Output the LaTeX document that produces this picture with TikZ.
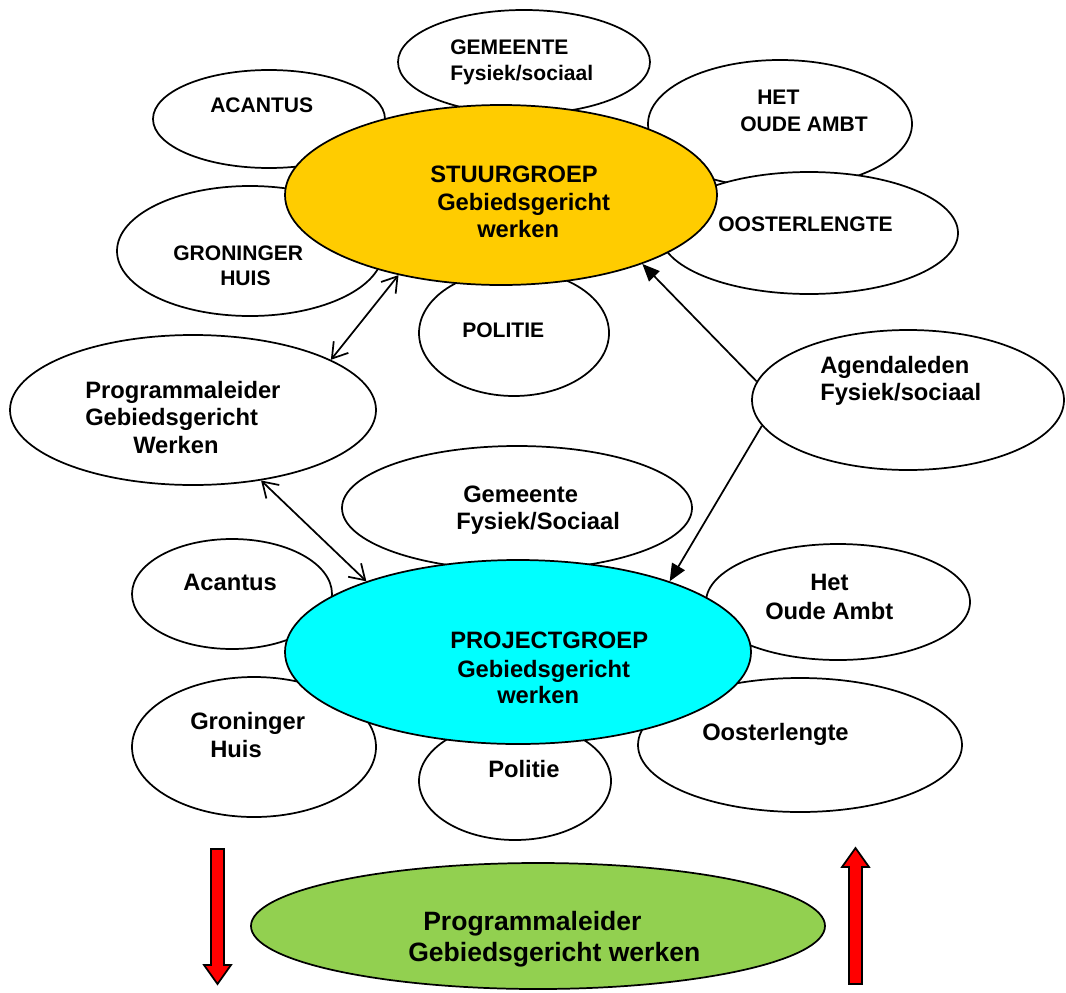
\documentclass[tikz,border=0pt]{standalone}
\usepackage{fontspec}
\setmainfont{Liberation Sans}
\usetikzlibrary{arrows.meta,shapes.geometric}
\definecolor{stuurc}{HTML}{FFCC00}
\definecolor{projc}{HTML}{00FFFF}
\definecolor{progc}{HTML}{92D050}
\begin{document}
\begin{tikzpicture}[x=0.75pt,y=-0.75pt,
  ell/.style 2 args={ellipse, draw=black, line width=1.3pt, fill=white, inner sep=0pt,
    minimum width=#1*1.5pt, minimum height=#2*1.5pt},
  lblS/.style={anchor=base west, inner sep=0pt, font=\bfseries\fontsize{15.8pt}{18pt}\selectfont},
  lblM/.style={anchor=base west, inner sep=0pt, font=\bfseries\fontsize{17.8pt}{20pt}\selectfont},
  lblL/.style={anchor=base west, inner sep=0pt, font=\bfseries\fontsize{19.9pt}{22pt}\selectfont},
  conn/.style={line width=1.3pt},
  dbl/.style={conn, {Straight Barb[length=11pt,width=14pt]}-{Straight Barb[length=11pt,width=14pt]}},
  sarrow/.style={conn, -{Triangle[length=13pt,width=11pt]}},
  redarrow/.style={fill=red, draw=black, line width=1.3pt, line join=miter}]
\useasboundingbox (0,0) rectangle (1066,992);

% top satellites
\node[ell={126}{52}] (gem1) at (524,62) {};
\node[ell={116}{49}] (aca1) at (269,119) {};
\node[ell={132}{64}] (hoa1) at (780,124) {};
\node[ell={149}{61}] (oos1) at (809,233) {};
\node[ell={133}{65}] (gro1) at (250,251) {};
\node[ell={95}{63}] (pol1) at (514,333) {};
% central top
\node[ell={216}{90}, fill=stuurc] (stuur) at (501,195) {};

% side
\node[ell={183}{75}] (prog) at (193,410) {};
\node[ell={156}{70}] (agenda) at (908,400) {};

% bottom satellites
\node[ell={175}{62}] (gem2) at (517,508) {};
\node[ell={100}{55}] (aca2) at (232,594) {};
\node[ell={132}{58}] (hoa2) at (838,602) {};
\node[ell={122}{70}] (gro2) at (254,747) {};
\node[ell={162}{67}] (oos2) at (800,745) {};
\node[ell={96}{59}] (pol2) at (515,781) {};
% central bottom
\node[ell={233}{92}, fill=projc] (proj) at (518,652) {};

% green
\node[ell={287}{63}, fill=progc] (green) at (538,926) {};

% connectors
\draw[dbl] (stuur.218) -- (prog.20);
\draw[dbl] (prog.-46) -- (proj.155);
\draw[sarrow] (agenda.173) -- (stuur.-26);
\draw[sarrow] (agenda.190) -- (proj.25);

% red arrows
\draw[redarrow] (211,849) -- (224,849) -- (224,965) -- (231,965) -- (217.5,984) -- (204,965) -- (211,965) -- cycle;
\draw[redarrow] (849,984) -- (862,984) -- (862,867) -- (869,867) -- (855.5,848) -- (842,867) -- (849,867) -- cycle;

% labels top
\node[lblS] (tgem1a) at (450,54) {GEMEENTE};
\node[lblS] (tgem1b) at (450,80) {Fysiek/sociaal};
\node[lblS] (taca1) at (210,112) {ACANTUS};
\node[lblS] (thoa1a) at (757,104) {HET};
\node[lblS] (thoa1b) at (740,131) {OUDE AMBT};
\node[lblS] (toos1) at (718,231) {OOSTERLENGTE};
\node[lblS] (tgro1a) at (173,260) {GRONINGER};
\node[lblS] (tgro1b) at (220,285) {HUIS};
\node[lblS] (tpol1) at (462,337) {POLITIE};
\node[lblM] (tstuura) at (430,182) {STUURGROEP};
\node[lblM] (tstuurb) at (437,210) {Gebiedsgericht};
\node[lblM] (tstuurc) at (477,237) {werken};

% side labels
\node[lblM] (tproga) at (85,398) {Programmaleider};
\node[lblM] (tprogb) at (85,425) {Gebiedsgericht};
\node[lblM] (tprogc) at (133,453) {Werken};
\node[lblM] (tagenda) at (820,373) {Agendaleden};
\node[lblM] (tagendb) at (820,400) {Fysiek/sociaal};

% labels bottom
\node[lblM] (tgem2a) at (463,502) {Gemeente};
\node[lblM] (tgem2b) at (456,529) {Fysiek/Sociaal};
\node[lblM] (taca2) at (183,590) {Acantus};
\node[lblM] (thoa2a) at (810,590) {Het};
\node[lblM] (thoa2b) at (765,619) {Oude Ambt};
\node[lblM] (tproja) at (450,648) {PROJECTGROEP};
\node[lblM] (tprojb) at (457,677) {Gebiedsgericht};
\node[lblM] (tprojc) at (497,703) {werken};
\node[lblM] (tgro2a) at (190,729) {Groninger};
\node[lblM] (tgro2b) at (210,757) {Huis};
\node[lblM] (toos2) at (702,740) {Oosterlengte};
\node[lblM] (tpol2) at (488,777) {Politie};

% green labels
\node[lblL] (tgreena) at (423,930) {Programmaleider};
\node[lblL] (tgreenb) at (408,961) {Gebiedsgericht werken};
\end{tikzpicture}
\end{document}
